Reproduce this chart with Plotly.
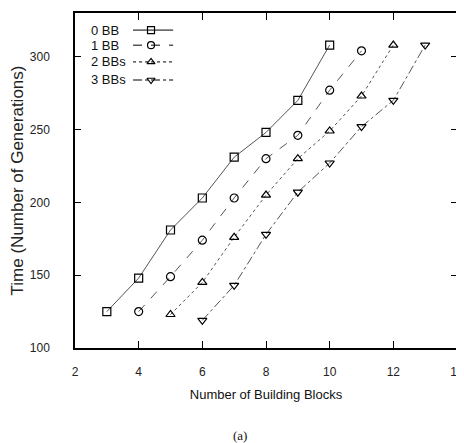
import plotly.graph_objects as go

series_names = ["0 BB", "1 BB", "2 BBs", "3 BBs"]
x_0bb = [3, 4, 5, 6, 7, 8, 9, 10]
y_0bb = [125, 148, 181, 203, 231, 248, 270, 308]
x_1bb = [4, 5, 6, 7, 8, 9, 10, 11]
y_1bb = [125, 149, 174, 203, 230, 246, 277, 304]
x_2bb = [5, 6, 7, 8, 9, 10, 11, 12]
y_2bb = [123, 145, 176, 205, 230, 249, 273, 308]
x_3bb = [6, 7, 8, 9, 10, 11, 12, 13]
y_3bb = [119, 143, 178, 207, 227, 252, 270, 308]

xs = [x_0bb, x_1bb, x_2bb, x_3bb]
ys = [y_0bb, y_1bb, y_2bb, y_3bb]
dashes = ["solid", "dash", "dot", "dashdot"]
symbols = ["square-open", "circle-open", "triangle-up-open", "triangle-down-open"]
line_col = "#555555"

fig = go.Figure()
for name, x, y, d, s in zip(series_names, xs, ys, dashes, symbols):
    fig.add_trace(go.Scatter(
        x=x, y=y, name=name, mode="lines+markers",
        line=dict(color=line_col, width=1, dash=d),
        marker=dict(symbol=s, size=8, color="black", line=dict(width=1.2, color="black")),
        showlegend=False, xaxis="x", yaxis="y"))

# manual legend (text on the left, sample on the right) on an overlay axis
leg_y = [0.949, 0.904, 0.854, 0.800]
for name, ly, d, s in zip(series_names, leg_y, dashes, symbols):
    fig.add_trace(go.Scatter(x=[0.152, 0.257], y=[ly, ly], mode="lines",
                             line=dict(color="black", width=1, dash=d),
                             showlegend=False, xaxis="x2", yaxis="y2", hoverinfo="skip"))
    fig.add_trace(go.Scatter(x=[0.199], y=[ly], mode="markers",
                             marker=dict(symbol=s, size=7, color="black", line=dict(width=1.2, color="black")),
                             showlegend=False, xaxis="x2", yaxis="y2", hoverinfo="skip"))
    fig.add_annotation(x=0.036, y=ly, xref="paper", yref="paper", text=name, showarrow=False,
                       xanchor="left", yanchor="middle",
                       font=dict(family="Liberation Sans, Arial", size=13, color="#111"))

axis_font = dict(family="Liberation Sans, Arial", size=12, color="#222")
fig.update_layout(
    width=464, height=443,
    margin=dict(l=67, r=15, t=5, b=103),
    plot_bgcolor="white", paper_bgcolor="white",
    xaxis=dict(range=[2, 14], dtick=2, showgrid=False, zeroline=False, automargin=False,
               ticks="inside", ticklen=7, tickcolor="black", showline=True, linecolor="black",
               linewidth=1.5, mirror="ticks", tickfont=axis_font, ticklabelstandoff=12,
               title=dict(text="Number of Building Blocks", standoff=12,
                          font=dict(family="Liberation Sans, Arial", size=13, color="#111"))),
    yaxis=dict(range=[100, 330], dtick=50, showgrid=False, zeroline=False, automargin=False,
               ticks="inside", ticklen=6, tickcolor="black", showline=True, linecolor="black",
               linewidth=1.5, mirror="ticks", tickfont=axis_font, ticklabelstandoff=21,
               title=dict(text="Time (Number of Generations)", standoff=6,
                          font=dict(family="Liberation Sans, Arial", size=17, color="#222"))),
    xaxis2=dict(range=[0, 1], overlaying="x", visible=False, fixedrange=True),
    yaxis2=dict(range=[0, 1], overlaying="y", visible=False, fixedrange=True),
    annotations=list(fig.layout.annotations) + [
        dict(x=0.433, y=-0.29, xref="paper", yref="paper", text="(a)", showarrow=False,
             font=dict(family="Liberation Serif, Times New Roman", size=13, color="#111"))
    ],
)

fig.write_html("out.html")
